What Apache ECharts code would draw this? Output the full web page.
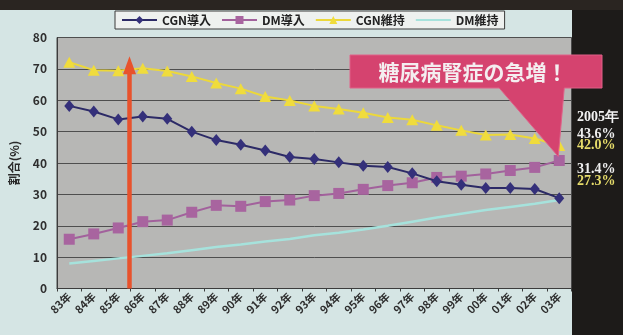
<!DOCTYPE html>
<html>
<head>
<meta charset="utf-8">
<script src="https://cdn.jsdelivr.net/npm/echarts@6/dist/echarts.min.js"></script>
<style>
  html, body { margin: 0; padding: 0; background: #1d1b19; }
  #wrap { position: relative; width: 623px; height: 335px; overflow: hidden; background: #1d1b19; }
  #topband { position: absolute; left: 0; top: 0; width: 623px; height: 10px; background: #2a2521; }
  #panel { position: absolute; left: 0; top: 10px; width: 572px; height: 325px; background: #d5e5e4; }
  #chart { position: absolute; left: 0; top: 0; width: 623px; height: 335px; }
</style>
</head>
<body>
<div id="wrap">
  <div id="topband"></div>
  <div id="panel"></div>
  <div id="chart"></div>
</div>
<script>
// Years on the category axis
const categories = ['83年','84年','85年','86年','87年','88年','89年','90年','91年','92年','93年',
  '94年','95年','96年','97年','98年','99年','00年','01年','02年','03年'];

// Share of patients (%) by primary disease
const cgnIntro = [58.2, 56.4, 53.9, 54.8, 54.1, 50.0, 47.3, 45.8, 44.0, 41.9, 41.3,
  40.2, 39.1, 38.7, 36.7, 34.2, 33.1, 32.0, 32.0, 31.7, 28.8];
const dmIntro = [15.7, 17.4, 19.3, 21.3, 21.8, 24.3, 26.5, 26.2, 27.7, 28.2, 29.6,
  30.3, 31.6, 32.8, 33.7, 35.4, 35.8, 36.5, 37.6, 38.6, 40.8];
const cgnMaint = [72.1, 69.6, 69.4, 70.2, 69.3, 67.6, 65.5, 63.7, 61.2, 59.9, 58.2,
  57.2, 56.0, 54.5, 53.8, 52.0, 50.4, 48.9, 49.1, 47.8, 45.6];
const dmMaint = [8.0, 8.8, 9.6, 10.4, 11.2, 12.2, 13.2, 14.0, 15.0, 15.8, 17.0,
  17.8, 18.8, 20.0, 21.3, 22.6, 23.8, 25.0, 26.0, 27.0, 28.2];

const seriesNames = ['CGN導入', 'DM導入', 'CGN維持', 'DM維持'];
const yTicks = [0, 10, 20, 30, 40, 50, 60, 70, 80];

// 2005 figures listed beside the plot
const sideYear = '2005年';
const sideValues = ['43.6%', '42.0%', '31.4%', '27.3%'];

// Red arrow: placed between 85年 and 86年, reaching up to this value
const arrowAfterIndex = 2;
const arrowTopValue = 74;

const calloutText = '糖尿病腎症の急増！';

const FONT = '"Noto Sans CJK JP", "Noto Sans", sans-serif';

const chart = echarts.init(document.getElementById('chart'), null, { renderer: 'canvas' });

const option = {
  backgroundColor: 'transparent',
  animation: false,
  textStyle: { fontFamily: FONT },
  grid: {
    left: 57, top: 37.5, width: 514.5, height: 251,
    show: true, backgroundColor: '#b7b7b5', borderColor: '#4a4a4a', borderWidth: 1
  },
  legend: {
    left: 115, top: 11,
    itemWidth: 35, itemHeight: 10, itemGap: 10,
    padding: [3, 6, 3, 6],
    backgroundColor: '#eef1ef', borderColor: '#3a3a3a', borderWidth: 1,
    textStyle: { fontFamily: FONT, fontSize: 12, fontWeight: 'bold', color: '#222' },
    data: [
      seriesNames[0], seriesNames[1], seriesNames[2],
      { name: seriesNames[3], itemStyle: { opacity: 0 } }
    ]
  },
  xAxis: {
    type: 'category',
    data: categories,
    boundaryGap: true,
    axisLine: { lineStyle: { color: '#3c3c3c', width: 1 } },
    axisTick: { show: true, length: 3, lineStyle: { color: '#3c3c3c' } },
    axisLabel: {
      rotate: 45, margin: 6, interval: 0,
      fontFamily: FONT, fontSize: 11, fontWeight: 'bold', color: '#2e2e2e'
    }
  },
  yAxis: {
    type: 'value',
    min: 0, max: 80, interval: 10,
    name: '割合(%)',
    nameLocation: 'middle', nameGap: 37, nameRotate: 90,
    nameTextStyle: { fontFamily: FONT, fontSize: 12, fontWeight: 'bold', color: '#2a2a2a' },
    axisLine: { show: true, lineStyle: { color: '#3c3c3c' } },
    axisTick: { show: false },
    axisLabel: {
      margin: 10, fontFamily: FONT, fontSize: 12, fontWeight: 'bold', color: '#2e2e2e',
      formatter: v => (yTicks.includes(v) ? String(v) : '')
    },
    splitLine: { show: true, lineStyle: { color: '#4e4e4e', width: 1 } }
  },
  series: [
    {
      name: seriesNames[0], type: 'line', data: cgnIntro,
      symbol: 'diamond', symbolSize: [10, 12],
      lineStyle: { color: '#2c2a66', width: 2 },
      itemStyle: { color: '#34307a' }, z: 4
    },
    {
      name: seriesNames[1], type: 'line', data: dmIntro,
      symbol: 'rect', symbolSize: 11,
      lineStyle: { color: '#a2619c', width: 2 },
      itemStyle: { color: '#a8649f' }, z: 3
    },
    {
      name: seriesNames[2], type: 'line', data: cgnMaint,
      symbol: 'triangle', symbolSize: [12, 11],
      lineStyle: { color: '#ecd83a', width: 2 },
      itemStyle: { color: '#f0dc3c' }, z: 3
    },
    {
      name: seriesNames[3], type: 'line', data: dmMaint,
      symbol: 'none',
      lineStyle: { color: '#a6e2dc', width: 2.5 },
      itemStyle: { color: '#a6e2dc' }, z: 2
    }
  ]
};

chart.setOption(option);

// Annotation graphics positioned from the axes
const px = (idx, val) => chart.convertToPixel({ gridIndex: 0 }, [idx, val]);
const a0 = px(arrowAfterIndex, 0);
const a1 = px(arrowAfterIndex + 1, 0);
const arrowX = (a0[0] + a1[0]) / 2 - 1;
const arrowTopY = px(0, arrowTopValue)[1];
const arrowHead = 18;

const tip = px(categories.length - 1, dmIntro[dmIntro.length - 1]);
const boxTop = 55, boxBottom = 88, boxLeft = 350, boxRight = 602;

const sideX = 577;
const sideStyle = (y, text, color) => ({
  type: 'text', left: sideX, top: y, z: 20,
  style: { text: text, fill: color, font: 'bold 14px "Liberation Serif", "DejaVu Serif", serif' }
});

chart.setOption({
  graphic: [
    {
      type: 'line', z: 10,
      shape: { x1: arrowX, y1: a0[1], x2: arrowX, y2: arrowTopY + arrowHead - 2 },
      style: { stroke: '#e8522c', lineWidth: 4.5 }
    },
    {
      type: 'polygon', z: 10,
      shape: { points: [[arrowX - 6.5, arrowTopY + arrowHead], [arrowX, arrowTopY], [arrowX + 6.5, arrowTopY + arrowHead]] },
      style: { fill: '#e8522c' }
    },
    {
      type: 'polygon', z: 12,
      shape: {
        points: [
          [boxLeft, boxTop], [boxRight, boxTop], [boxRight, boxBottom],
          [tip[0] + 5, boxBottom], [tip[0] - 1, tip[1] - 4], [tip[0] - 60, boxBottom],
          [boxLeft, boxBottom]
        ]
      },
      style: { fill: '#d5436f', stroke: '#e06088', lineWidth: 1 }
    },
    {
      type: 'text', z: 13,
      x: (boxLeft + boxRight) / 2 - 3, y: (boxTop + boxBottom) / 2 + 1,
      style: {
        text: calloutText, fill: '#f4eef0',
        font: 'bold 21px "Noto Sans CJK JP", sans-serif',
        align: 'center', verticalAlign: 'middle'
      }
    },
    sideStyle(110, sideYear, '#f2f2f2'),
    sideStyle(127, sideValues[0], '#eeeeee'),
    sideStyle(138, sideValues[1], '#e6dc6a'),
    sideStyle(162, sideValues[2], '#eeeeee'),
    sideStyle(174, sideValues[3], '#e6dc6a')
  ]
});
</script>
</body>
</html>
